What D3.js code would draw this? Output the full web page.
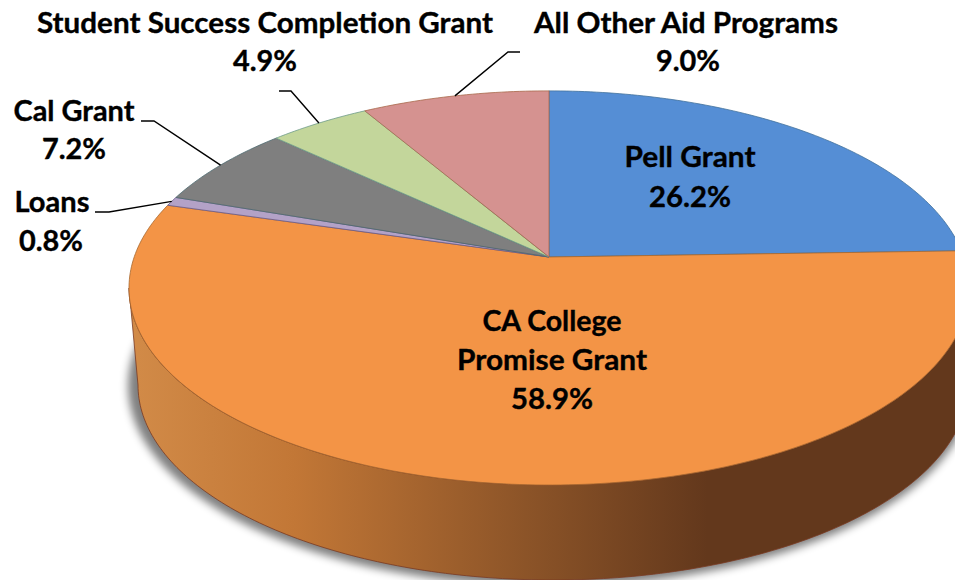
<!DOCTYPE html>
<html><head><meta charset="utf-8">
<script src="https://cdn.jsdelivr.net/npm/d3@7/dist/d3.min.js"></script>
<style>html,body{margin:0;padding:0;background:#fff;overflow:hidden}svg{display:block}
text{font-family:Lato,"Open Sans",sans-serif;font-weight:700;fill:#000;stroke:#000;stroke-width:0.35;text-anchor:middle}</style>
</head><body><svg id="c" width="955" height="580"></svg>
<script>
const categories = ["Pell Grant","CA College Promise Grant","Loans","Cal Grant","Student Success Completion Grant","All Other Aid Programs"];
const values = [26.2,58.9,0.8,7.2,4.9,9.0];
const labelLines = [["Pell Grant"],["CA College","Promise Grant"],["Loans"],["Cal Grant"],["Student Success Completion Grant"],["All Other Aid Programs"]];
const sliceColors = ["#558ed5","#f39446","#b3a2c7","#7f7f7f","#c3d69b","#d59290"];
const sliceEdges  = ["#41719c","#a8682f","#6a5a8a","#4d6a70","#6f9c8a","#a8684a"];

// layout (separate from data)
const cx=549, cy=257, k=0.157, a=414.8, b=192.2;
const project=(t,r=1)=>{const u=Math.sin(t)*r,v=-Math.cos(t)*r,w=1-k*v;return [cx+a*u/w,cy+b*v/w];};
const topEll={cx:549,cy:288,rx:420,ry:197}, botEll={cx:553,cy:385,rx:415,ry:195};
const onEllipse=(e,t)=>[e.cx+e.rx*Math.cos(t),e.cy+e.ry*Math.sin(t)];

const svg=d3.select("#c");
const defs=svg.append("defs");
const g=defs.append("linearGradient").attr("id","wall").attr("gradientUnits","userSpaceOnUse")
  .attr("x1",129).attr("x2",955).attr("y1",0).attr("y2",0);
[[0,"#d28b48"],[0.2,"#c27736"],[0.48,"#8c5428"],[0.7,"#63381c"],[1,"#63381c"]]
  .forEach(([o,c])=>g.append("stop").attr("offset",o).attr("stop-color",c));
defs.append("filter").attr("id","blur").attr("x","-10%").attr("y","-10%").attr("width","120%").attr("height","120%")
  .append("feGaussianBlur").attr("stdDeviation",4.5);

const line=d3.line();
// shadow
svg.append("ellipse").attr("cx",botEll.cx-3).attr("cy",botEll.cy+1).attr("rx",botEll.rx+7).attr("ry",botEll.ry+5)
  .attr("fill","#000").attr("opacity",0.5).attr("filter","url(#blur)");

// side wall
const ts=d3.range(0,181).map(d=>d*Math.PI/180);
const wallPts=ts.map(t=>onEllipse(topEll,t)).concat(ts.slice().reverse().map(t=>onEllipse(botEll,t)));
svg.append("path").attr("d",line(wallPts)+"Z").attr("fill","url(#wall)").attr("stroke","#7a3a22").attr("stroke-width",0.8);

// top face
const arcs=d3.pie().sort(null).value(d=>d)(values);
svg.append("g").selectAll("path").data(arcs).join("path")
  .attr("d",d=>{
    const n=Math.max(2,Math.ceil((d.endAngle-d.startAngle)*60));
    const rim=d3.range(n+1).map(i=>project(d.startAngle+(d.endAngle-d.startAngle)*i/n));
    return line([[cx,cy],...rim])+"Z";
  })
  .attr("fill",(d,i)=>sliceColors[i]).attr("stroke",(d,i)=>sliceEdges[i]).attr("stroke-width",0.8).attr("stroke-linejoin","round");

// leaders: elbow near the label, end on the slice rim
const leaders={2:[[95,212],[109,212]],3:[[141,121],[154,121]],4:[[279,91],[291,91]],5:[[520,52],[508,52]]};
Object.entries(leaders).forEach(([i,pts])=>{
  const d=arcs[+i], mid=(d.startAngle+d.endAngle)/2;
  svg.append("path").attr("d",line([...pts,project(mid)])).attr("fill","none").attr("stroke","#000").attr("stroke-width",1.4);
});

// labels
const fmt=d3.format(".1f");
const labelPos=[[690,167,40],[552,331,39],[52,212,39],[74,121,38],[265,33,38],[686,33,38]];
const pctX=[690,552,51,74,265,688];
const lineWidths={"Pell Grant":131,"CA College":139,"Promise Grant":190,"Loans":75,"Cal Grant":121,"Student Success Completion Grant":456,"All Other Aid Programs":304};
const pctWidth=v=>v>=10?82:64;
const fs=28;
categories.forEach((c,i)=>{
  const [x,y,dy]=labelPos[i];
  labelLines[i].forEach((s,j)=>{
    svg.append("text").attr("x",x).attr("y",y+j*dy).attr("font-size",fs)
      .attr("textLength",lineWidths[s]).attr("lengthAdjust","spacingAndGlyphs").text(s);
  });
  svg.append("text").attr("x",pctX[i]).attr("y",y+labelLines[i].length*dy).attr("font-size",fs)
    .attr("textLength",pctWidth(values[i])).attr("lengthAdjust","spacingAndGlyphs").text(fmt(values[i])+"%");
});
</script></body></html>
